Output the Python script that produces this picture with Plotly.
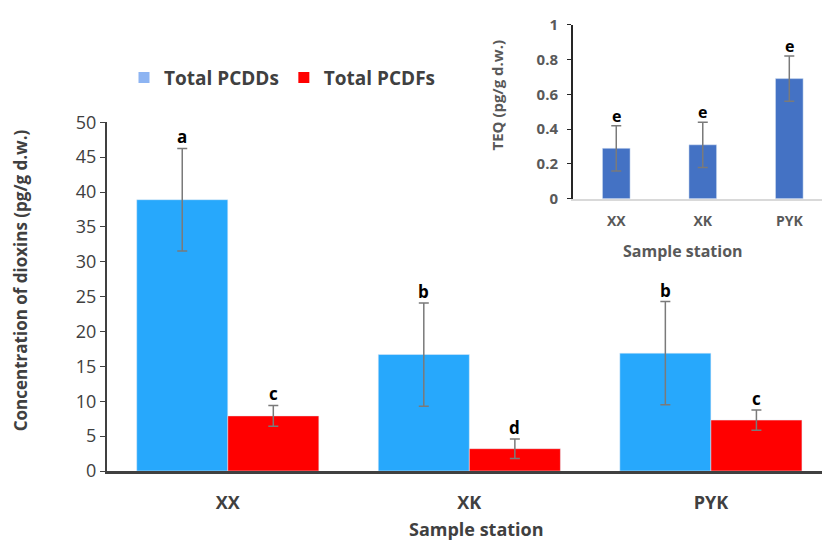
import plotly.graph_objects as go

# ---- data ----
stations = ["XX", "XK", "PYK"]
pcdd = [38.9, 16.7, 16.9]
pcdd_err = [7.35, 7.4, 7.4]
pcdd_letters = ["a", "b", "b"]
pcdf = [7.9, 3.2, 7.3]
pcdf_err = [1.5, 1.4, 1.45]
pcdf_letters = ["c", "d", "c"]
teq = [0.29, 0.31, 0.69]
teq_err = [0.13, 0.13, 0.13]
teq_letters = ["e", "e", "e"]
y_ticks_main = [0, 5, 10, 15, 20, 25, 30, 35, 40, 45, 50]
y_ticks_inset = [0, 0.2, 0.4, 0.6, 0.8, 1]

FONT = "Open Sans"
GRAY = "#404040"
xpos = list(range(len(stations)))

W, H = 822, 543
ML, MR, MT, MB = 107, 0, 10, 72
PW, PH = W - ML - MR, H - MT - MB


def px(x):
    return (x - ML) / PW


def py(y):
    return (H - MB - y) / PH


fig = go.Figure()
err_style = dict(type="data", thickness=1.5, width=5, color="#7a7a7a")
fig.add_trace(go.Bar(x=xpos, y=pcdd, name="Total PCDDs", marker_color="#27A8FC",
                     error_y=dict(array=pcdd_err, **err_style), showlegend=False,
                     xaxis="x", yaxis="y"))
fig.add_trace(go.Bar(x=xpos, y=pcdf, name="Total PCDFs", marker_color="#FF0000",
                     error_y=dict(array=pcdf_err, **err_style), showlegend=False,
                     xaxis="x", yaxis="y"))
# legend entries
fig.add_trace(go.Scatter(x=[None], y=[None], mode="markers", name="Total PCDDs",
                         marker=dict(symbol="square", size=11, color="#8DB4F2")))
fig.add_trace(go.Scatter(x=[None], y=[None], mode="markers", name="Total PCDFs",
                         marker=dict(symbol="square", size=11, color="#FF0000")))
# inset
fig.add_trace(go.Bar(x=xpos, y=teq, marker_color="#4472C4", width=0.32,
                     error_y=dict(array=teq_err, **err_style), showlegend=False,
                     xaxis="x2", yaxis="y2"))

ann = []
for i in xpos:
    ann.append(dict(x=i - 0.1885, y=pcdd[i] + pcdd_err[i], xref="x", yref="y",
                    text="<b>%s</b>" % pcdd_letters[i], showarrow=False,
                    xanchor="center", yanchor="bottom", yshift=-2,
                    font=dict(family=FONT, size=17, color="black")))
    ann.append(dict(x=i + 0.1885, y=pcdf[i] + pcdf_err[i], xref="x", yref="y",
                    text="<b>%s</b>" % pcdf_letters[i], showarrow=False,
                    xanchor="center", yanchor="bottom", yshift=-2,
                    font=dict(family=FONT, size=17, color="black")))
    ann.append(dict(x=i, y=teq[i] + teq_err[i], xref="x2", yref="y2",
                    text="<b>%s</b>" % teq_letters[i], showarrow=False,
                    xanchor="center", yanchor="bottom", yshift=-3,
                    font=dict(family=FONT, size=16, color="black")))


def label(x, y, text, size, color, angle=0):
    return dict(x=px(x), y=py(y), xref="paper", yref="paper", textangle=angle,
                text="<b>%s</b>" % text, showarrow=False,
                xanchor="center", yanchor="middle",
                font=dict(family=FONT, size=size, color=color))


ann.append(label(20, 279, "Concentration of dioxins (pg/g d.w.)", 17, GRAY, -90))
ann.append(label(476, 529, "Sample station", 18, GRAY))
ann.append(label(497, 92, "TEQ (pg/g d.w.)", 15, "#595959", -90))
ann.append(label(683, 250, "Sample station", 16, "#595959"))

fig.update_layout(
    width=W, height=H,
    margin=dict(l=ML, r=MR, t=MT, b=MB, pad=0),
    paper_bgcolor="white", plot_bgcolor="rgba(0,0,0,0)",
    barmode="group", bargap=0.246, bargroupgap=0,
    font=dict(family=FONT, color=GRAY),
    legend=dict(orientation="h", x=px(124), y=py(75), xanchor="left", yanchor="middle",
                font=dict(family=FONT, size=19, color="#404040", weight="bold"),
                itemwidth=30, bgcolor="rgba(0,0,0,0)"),
    xaxis=dict(domain=[0, 1], range=[-0.5, 2.46], tickvals=xpos,
               ticktext=["<b>%s</b>" % s for s in stations],
               tickfont=dict(family=FONT, size=18, color=GRAY),
               showline=True, linecolor=GRAY, linewidth=2.5, ticks="",
               showgrid=False, zeroline=False, ticklabelstandoff=14),
    yaxis=dict(domain=[0, py(120)], range=[0, 50], tickvals=y_ticks_main,
               tickfont=dict(family=FONT, size=18, color=GRAY),
               showline=True, linecolor=GRAY, linewidth=2, ticks="outside",
               ticklen=5, tickcolor=GRAY, showgrid=False, zeroline=False),
    xaxis2=dict(domain=[px(573), 1], range=[-0.5, 2.378], anchor="y2",
                tickvals=xpos, ticktext=["<b>%s</b>" % s for s in stations],
                tickfont=dict(family=FONT, size=14, color="#595959"),
                showline=True, linecolor="#d9d9d9", linewidth=1.5, ticks="",
                showgrid=False, zeroline=False, ticklabelstandoff=9),
    yaxis2=dict(domain=[py(197), py(21.7)], range=[0, 1], anchor="x2",
                tickvals=y_ticks_inset, ticktext=["<b>%g</b>" % v for v in y_ticks_inset],
                tickfont=dict(family=FONT, size=15, color="#595959"),
                showline=True, linecolor="#262626", linewidth=2, ticks="outside",
                ticklen=4, tickcolor="#262626", showgrid=False, zeroline=False,
                ticklabelstandoff=6),
    annotations=ann,
)

fig.write_html("out.html", config={"displayModeBar": False})

# remove default page margin so the figure sits at the window's corner
with open("out.html", "r", encoding="utf-8") as f:
    html = f.read()
html = html.replace("<head>", "<head><style>html,body{margin:0;padding:0;overflow:hidden;}</style>", 1)
with open("out.html", "w", encoding="utf-8") as f:
    f.write(html)
